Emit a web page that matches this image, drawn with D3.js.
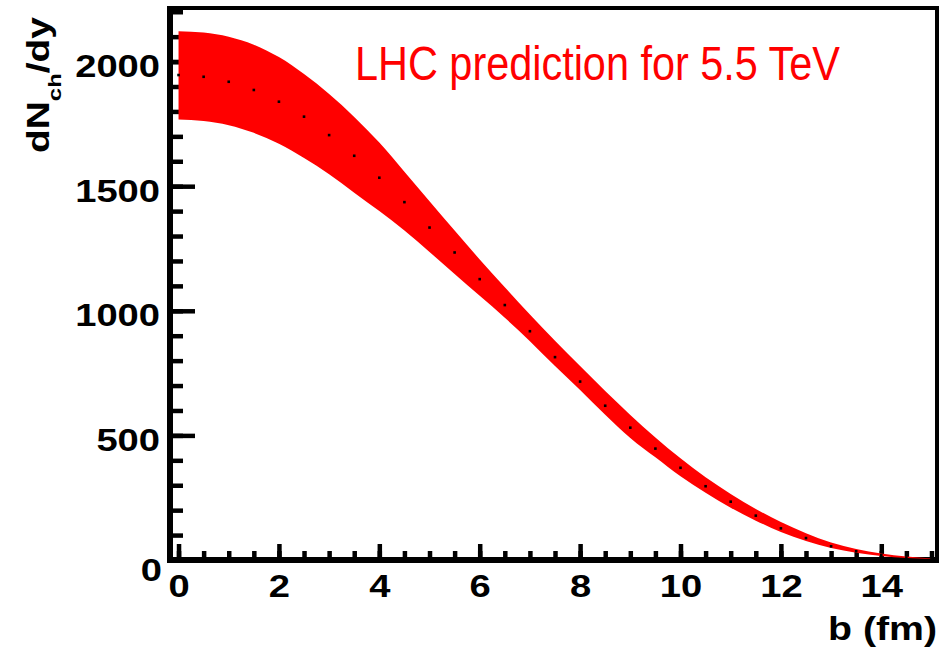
<!DOCTYPE html>
<html>
<head>
<meta charset="utf-8">
<script src="https://cdn.jsdelivr.net/npm/d3@7"></script>
<style>
  body { margin: 0; background: #fff; }
  text { font-family: "Liberation Sans", Arial, Helvetica, sans-serif; }
</style>
</head>
<body>
<div id="chart"></div>
<script>
// impact parameter grid (fm)
const bValues = [0, 0.5, 1, 1.5, 2, 2.5, 3, 3.5, 4, 4.5, 5, 5.5, 6, 6.5, 7, 7.5,
                 8, 8.5, 9, 9.5, 10, 10.5, 11, 11.5, 12, 12.5, 13, 13.5, 14, 14.5, 15];
// central prediction (dotted)
const centralVals = [1946, 1939, 1919, 1886, 1839, 1779, 1705, 1622, 1534, 1436, 1334, 1234, 1127, 1023, 918, 814,
                     716, 619, 531, 447, 370, 296, 234, 178, 127, 88, 55, 35, 20, 10, 5];
// band edges
const upperVals = [2122, 2117, 2100, 2068, 2018, 1950, 1870, 1778, 1675, 1558, 1440, 1322, 1206, 1094, 985, 880,
                   778, 678, 582, 492, 408, 332, 265, 205, 152, 107, 70, 44, 26, 14, 6];
const lowerVals = [1768, 1762, 1745, 1714, 1670, 1613, 1548, 1474, 1400, 1322, 1236, 1148, 1060, 972, 878, 778,
                   682, 583, 490, 412, 336, 270, 210, 158, 112, 76, 48, 29, 16, 8, 4];

const xMajorTicks = [0, 2, 4, 6, 8, 10, 12, 14];
const xMinorTicks = d3.range(0, 15.01, 0.5);
const yMajorTicks = [0, 500, 1000, 1500, 2000];
const yMinorTicks = d3.range(0, 2201, 100);

const titleText = "LHC prediction for 5.5 TeV";
const xLabel = "b (fm)";

const width = 941, height = 650;
const x0 = 170, x1 = 937, yTop = 8, yBottom = 560;

const svg = d3.select("#chart").append("svg")
    .attr("width", width)
    .attr("height", height);

svg.append("rect").attr("width", width).attr("height", height).attr("fill", "#fff");

const x = d3.scaleLinear().domain([-0.17, 15.11]).range([x0, x1]);
const y = d3.scaleLinear().domain([0, 2215]).range([yBottom, yTop]);

// stretch tick labels like the original
function stretch(sel, k) {
    sel.each(function () {
        const len = this.getComputedTextLength();
        d3.select(this).attr("textLength", len * k).attr("lengthAdjust", "spacingAndGlyphs");
    });
}

// x axis
const gxMinor = svg.append("g").attr("transform", `translate(0,${yBottom})`)
    .call(d3.axisBottom(x).tickValues(xMinorTicks).tickSizeInner(-9).tickSizeOuter(0).tickFormat(""));
const gx = svg.append("g").attr("transform", `translate(0,${yBottom})`)
    .call(d3.axisBottom(x).tickValues(xMajorTicks).tickSizeInner(-16).tickSizeOuter(0)
        .tickPadding(37).tickFormat(d3.format("d")));

// y axis
const gyMinor = svg.append("g").attr("transform", `translate(${x0},0)`)
    .call(d3.axisLeft(y).tickValues(yMinorTicks).tickSizeInner(-13).tickSizeOuter(0).tickFormat(""));
const gy = svg.append("g").attr("transform", `translate(${x0},0)`)
    .call(d3.axisLeft(y).tickValues(yMajorTicks).tickSizeInner(-25).tickSizeOuter(0)
        .tickPadding(10).tickFormat(d3.format("d")));

[gxMinor, gx, gyMinor, gy].forEach(g => {
    g.select(".domain").remove();
    g.selectAll(".tick line").attr("stroke", "#000").attr("stroke-width", 4.5);
});

gx.selectAll(".tick text")
    .attr("dy", 0)
    .attr("font-size", 31)
    .attr("font-weight", "bold")
    .attr("fill", "#000")
    .call(stretch, 1.23);

gy.selectAll(".tick text")
    .attr("dy", 0)
    .attr("y", d => d === 0 ? 20 : 15)
    .attr("x", d => d === 0 ? -8 : -10)
    .attr("font-size", 31)
    .attr("font-weight", "bold")
    .attr("fill", "#000")
    .call(stretch, 1.23);

// frame
svg.append("line").attr("x1", x0).attr("x2", x0).attr("y1", yTop - 2).attr("y2", yBottom + 3)
    .attr("stroke", "#000").attr("stroke-width", 6);
svg.append("line").attr("x1", x0 - 3).attr("x2", x1 + 2).attr("y1", yBottom).attr("y2", yBottom)
    .attr("stroke", "#000").attr("stroke-width", 6);
svg.append("line").attr("x1", x0).attr("x2", x1 + 2).attr("y1", yTop).attr("y2", yTop)
    .attr("stroke", "#000").attr("stroke-width", 4);
svg.append("line").attr("x1", x1).attr("x2", x1).attr("y1", yTop).attr("y2", yBottom)
    .attr("stroke", "#000").attr("stroke-width", 4);

// band
const bandData = bValues.map((b, i) => ({ b, lo: lowerVals[i], hi: upperVals[i] }));
const area = d3.area()
    .x(d => x(d.b))
    .y0(d => y(d.lo))
    .y1(d => y(d.hi))
    .curve(d3.curveMonotoneX);

svg.append("path")
    .datum(bandData)
    .attr("d", area)
    .attr("fill", "#ff0000");

// central dots
svg.append("g").selectAll("rect")
    .data(bValues.map((b, i) => ({ b, v: centralVals[i] })))
    .join("rect")
    .attr("x", d => x(d.b) - 1.3)
    .attr("y", d => y(d.v) - 1.3)
    .attr("width", 2.6)
    .attr("height", 2.6)
    .attr("fill", "#000");

// title
svg.append("text")
    .attr("x", 355)
    .attr("y", 80)
    .attr("font-size", 49)
    .attr("fill", "#ff0000")
    .attr("textLength", 485)
    .attr("lengthAdjust", "spacingAndGlyphs")
    .text(titleText);

// x label
svg.append("text")
    .attr("x", 828)
    .attr("y", 640)
    .attr("font-size", 34)
    .attr("font-weight", "bold")
    .attr("textLength", 109)
    .attr("lengthAdjust", "spacingAndGlyphs")
    .text(xLabel);

// y label, rotated, with subscript
const yl = svg.append("g").attr("transform", "translate(49,153) rotate(-90)")
    .append("text")
    .attr("font-size", 31)
    .attr("font-weight", "bold");
yl.append("tspan").text("dN");
yl.append("tspan").attr("font-size", 19).attr("dy", 12).text("ch");
yl.append("tspan").attr("dy", -12).text("/dy");
const ylLen = yl.node().getComputedTextLength();
yl.attr("transform", `scale(${136 / ylLen},1)`);
</script>
</body>
</html>
